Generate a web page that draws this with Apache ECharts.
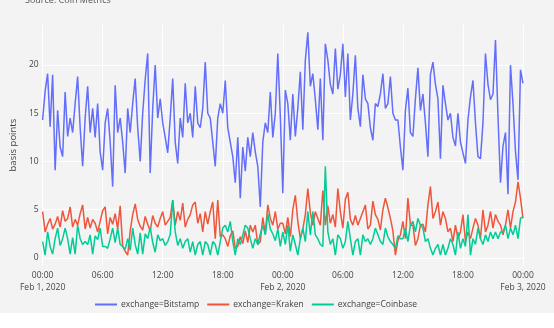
<!DOCTYPE html>
<html>
<head>
<meta charset="utf-8">
<script src="https://cdn.jsdelivr.net/npm/echarts@6/dist/echarts.min.js"></script>
<style>
html,body{margin:0;padding:0;background:#fff;}
#chart{width:554px;height:328px;background:linear-gradient(#f3f3f3 0,#f3f3f3 313px,#ffffff 313px);}
</style>
</head>
<body>
<div id="chart"></div>
<script>
// 15-minute samples, Feb 1 2020 00:00 to Feb 3 2020 00:00 (UTC)
const startTime = Date.UTC(2020, 1, 1, 0, 0);
const stepMinutes = 15;
const seriesNames = ['exchange=Bitstamp', 'exchange=Kraken', 'exchange=Coinbase'];
const yTicks = [0, 5, 10, 15, 20];

const bitstamp = [
 14.3,17.3,19.1,13.6, 19.0,9.1,15.3,11.5, 10.5,17.2,12.6,14.5, 13.0,16.0,18.8,13.5,
 9.5,14.5,17.8,13.0, 15.5,12.5,16.0,11.0, 9.1,14.0,15.5,12.0, 7.4,17.9,13.0,14.5,
 12.0,8.8,15.5,13.0, 16.0,18.6,13.5,10.0, 15.0,18.5,21.2,8.8, 15.5,20.0,14.5,16.5,
 14.0,12.5,10.9,14.5, 18.6,12.0,9.8,14.5, 12.5,18.1,14.0,15.0, 12.5,17.8,14.0,13.5,
 15.5,20.3,15.0,14.5, 12.0,9.5,14.5,16.0, 15.0,18.4,13.5,12.0, 10.5,7.8,12.5,6.2,
 11.5,9.0,12.5,10.5, 13.0,11.0,9.5,5.3, 12.0,14.0,13.0,17.2, 12.5,15.0,21.2,14.7,
 6.7,17.4,16.0,12.2, 17.0,12.6,15.5,19.3, 13.3,20.5,23.4,17.8, 19.1,16.4,13.3,18.6,
 12.2,22.2,20.5,18.0, 17.0,21.7,17.5,19.0, 22.2,16.7,21.2,14.3, 17.0,21.0,15.5,13.6,
 19.0,16.5,16.0,13.5, 12.2,16.0,15.7,17.0, 19.1,15.5,16.0,18.8, 15.0,14.3,14.3,11.5,
 9.1,15.3,17.6,13.0, 12.6,16.5,19.7,15.3, 17.0,14.0,10.5,19.0, 20.3,18.0,16.5,10.3,
 17.9,16.0,14.3,15.0, 12.5,11.6,15.0,12.0, 10.9,9.8,14.3,16.7, 18.4,14.0,10.5,10.3,
 14.0,21.2,18.0,16.4, 17.0,22.6,14.7,7.8, 11.6,13.0,6.6,20.0, 16.0,11.0,8.1,19.5,
 18.1
];

const kraken = [
 4.8,2.7,3.5,4.1, 3.0,3.5,4.3,3.2, 4.9,3.8,4.1,5.3, 3.2,4.0,3.4,4.6,
 5.5,3.0,4.2,3.1, 4.0,3.6,2.7,3.8, 4.9,5.3,2.5,4.2, 3.5,4.6,3.0,5.4,
 1.2,0.7,0.3,2.8, 4.5,5.6,4.0,3.3, 2.9,4.3,3.5,2.8, 4.4,3.6,3.2,4.1,
 4.8,3.4,3.8,4.2, 6.0,3.4,4.8,3.9, 5.7,3.2,4.0,4.5, 5.5,5.8,3.6,4.6,
 2.7,4.8,3.5,4.8, 5.8,2.0,6.0,2.2, 2.4,2.0,1.2,2.3, 2.8,1.0,1.2,2.2,
 1.5,2.8,1.6,3.4, 2.7,3.4,1.4,1.7, 4.2,2.5,5.5,4.1, 3.4,4.8,3.0,3.6,
 3.6,2.5,4.2,2.2, 5.0,6.5,3.8,2.0, 3.0,4.5,7.2,4.7, 3.4,4.8,4.1,3.4,
 7.0,3.4,5.4,3.6, 4.5,3.2,7.2,4.8, 3.1,6.1,6.8,4.0, 3.4,4.4,3.4,4.1,
 4.8,5.5,3.0,3.4, 5.9,4.5,4.0,2.9, 5.0,6.2,5.2,4.1, 2.8,0.3,1.8,2.4,
 3.8,2.0,6.2,3.4, 3.4,1.3,2.0,3.4, 3.5,2.7,5.5,7.4, 4.1,4.8,5.8,3.4,
 4.8,4.1,2.7,3.1, 1.7,3.4,2.0,2.7, 4.5,1.7,2.7,2.0, 3.1,4.1,3.4,2.0,
 5.0,2.7,3.4,4.8, 3.1,4.5,3.8,3.4, 2.4,3.4,5.0,3.1, 4.8,5.8,7.9,6.2,
 4.1
];

const coinbase = [
 1.7,0.3,2.7,1.2, 0.4,2.0,3.1,1.3, 2.0,3.1,2.0,0.4, 2.1,0.4,3.4,2.0,
 1.4,1.7,1.4,2.4, 0.4,2.3,1.9,3.1, 1.2,1.2,1.0,2.0, 3.1,1.6,3.1,1.4,
 1.2,0.9,2.0,0.8, 3.1,1.4,0.4,2.6, 0.4,2.5,2.0,3.2, 1.6,0.6,2.4,1.8,
 2.0,1.3,1.7,2.4, 6.0,2.7,1.3,2.0, 1.0,1.7,2.0,0.6, 1.7,0.3,1.4,1.7,
 0.3,1.7,1.4,0.3, 1.7,1.4,0.3,1.7, 3.1,3.4,2.7,3.8, 1.7,0.3,2.0,1.4,
 2.4,3.4,3.1,2.0, 1.0,2.0,1.4,2.5, 3.4,2.4,4.6,3.0, 2.5,1.8,3.0,1.2,
 2.7,1.4,3.4,0.7, 2.4,1.4,0.3,2.0, 3.1,1.7,4.8,2.4, 4.8,2.4,2.0,1.4,
 1.2,9.5,2.7,1.4, 2.0,0.3,2.4,2.0, 1.0,1.7,3.8,2.0, 0.3,1.7,2.0,0.3,
 2.4,1.7,2.0,1.4, 2.0,3.1,2.4,1.7, 1.4,3.1,2.2,1.7, 1.4,1.0,2.3,2.0,
 2.0,3.1,1.7,3.4, 3.8,2.7,4.1,3.4, 3.1,1.7,2.0,1.0, 0.3,1.0,1.4,0.3,
 1.4,0.3,1.0,2.0, 1.4,0.3,2.7,1.0, 2.0,1.2,4.5,0.3, 2.0,1.4,3.1,2.0,
 1.4,2.4,1.7,2.7, 2.0,2.7,2.0,2.7, 2.7,3.4,2.0,3.1, 2.4,3.4,2.0,4.1,
 4.3
];

const seriesColors = ['#636efa', '#ef553b', '#00cc96'];
const seriesValues = [bitstamp, kraken, coinbase];

const HOUR = 3600 * 1000;
const MONTHS = ['Jan','Feb','Mar','Apr','May','Jun','Jul','Aug','Sep','Oct','Nov','Dec'];
function pad(n){ return (n < 10 ? '0' : '') + n; }
function fmt(v){
  const d = new Date(v);
  const hm = pad(d.getUTCHours()) + ':' + pad(d.getUTCMinutes());
  if (d.getUTCHours() === 0 && d.getUTCMinutes() === 0) {
    return hm + '\n' + MONTHS[d.getUTCMonth()] + ' ' + d.getUTCDate() + ', ' + d.getUTCFullYear();
  }
  return hm;
}

const chart = echarts.init(document.getElementById('chart'), null, {renderer: 'canvas'});
const font = '"Open Sans", "Noto Sans", sans-serif';
chart.setOption({
  backgroundColor: 'transparent',
  animation: false,
  textStyle: {fontFamily: font},
  title: {
    text: 'Source: Coin Metrics',
    left: 20, top: -9,
    textStyle: {fontSize: 9, fontWeight: 'normal', color: '#555', fontFamily: font}
  },
  grid: {left: 37.5, right: 31, top: 24.5, bottom: 62.3, containLabel: false},
  legend: {
    left: 90, top: 295,
    itemWidth: 22, itemHeight: 2, itemGap: 8,
    icon: 'rect',
    textStyle: {fontSize: 8.5, color: '#444', fontFamily: font, padding: [0,0,0,-1]},
    data: seriesNames
  },
  xAxis: {
    type: 'value',
    min: startTime,
    max: startTime + 48 * HOUR,
    interval: 6 * HOUR,
    axisLine: {show: false},
    axisTick: {show: false},
    splitLine: {show: true, lineStyle: {color: '#ffffff', width: 1}},
    axisLabel: {
      formatter: fmt, fontSize: 8.5, color: '#444', lineHeight: 12, margin: 4,
      showMinLabel: true, showMaxLabel: true, hideOverlap: false
    }
  },
  yAxis: {
    type: 'value',
    min: -0.8,
    max: 24.2,
    name: 'basis points',
    nameLocation: 'middle',
    nameGap: 23,
    nameTextStyle: {fontSize: 9.5, color: '#444', fontFamily: font},
    axisLine: {show: false},
    axisTick: {show: false, customValues: yTicks},
    splitLine: {show: true, lineStyle: {color: '#ffffff', width: 1}},
    axisLabel: {customValues: yTicks, fontSize: 8.5, color: '#444', margin: 4}
  },
  series: seriesNames.map(function(name, k){
    return {
      name: name,
      type: 'line',
      showSymbol: false,
      symbol: 'none',
      color: seriesColors[k],
      lineStyle: {width: 1.5, color: seriesColors[k]},
      data: seriesValues[k].map(function(v, i){ return [startTime + i * stepMinutes * 60000, v]; })
    };
  })
});
</script>
</body>
</html>
